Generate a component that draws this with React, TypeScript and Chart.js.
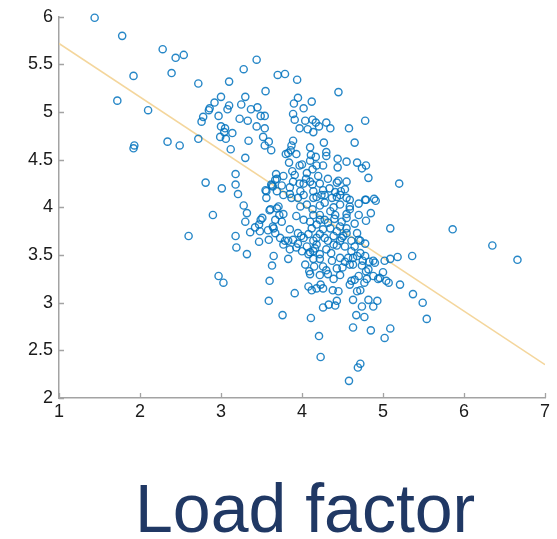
import React, { useEffect, useRef } from "react";
import { Chart, registerables } from "chart.js";

Chart.register(...registerables);

// Scatter points (x values and y values, same order)
const xs = [
  1.44, 1.78, 2.28, 2.44, 2.54, 2.39, 1.92, 1.72, 2.10, 1.93, 1.92, 2.34, 2.49, 2.72, 2.72, 2.81, 2.76, 2.78, 2.86, 2.85,
  2.92, 3.00, 2.97, 3.10, 3.28, 3.44, 3.70, 3.55, 3.30, 3.10, 3.08, 3.25, 3.37, 3.45, 3.23, 3.33, 3.49, 3.54, 3.00, 3.05,
  2.99, 3.06, 3.04, 3.14, 3.44, 3.54, 3.52, 3.59, 3.54, 3.62, 3.34, 3.12, 3.30, 3.18, 3.18, 3.01, 3.21, 3.68, 3.67, 3.63,
  3.55, 3.56, 3.56,
  3.79, 3.94, 4.45, 3.95, 3.90, 4.12, 4.02, 4.78, 3.89, 3.91, 4.04, 4.13, 4.17, 4.21, 4.30, 3.97, 4.07, 4.14, 4.35, 4.58,
  3.89, 3.87, 3.86, 4.27, 4.65, 4.10, 3.80, 3.83, 3.93, 4.11, 4.17, 4.30, 4.30, 4.44, 3.84, 3.97, 4.00, 4.10, 4.18, 4.26,
  4.44, 4.55, 4.68, 4.79, 4.74, 3.69, 3.77, 3.88, 3.91, 4.06, 4.05, 4.13, 4.20, 4.32, 4.45, 4.55, 4.82, 5.20, 3.75, 3.85,
  3.97, 4.02, 4.13, 4.22, 4.34, 4.48, 4.53, 3.64, 3.85, 4.02, 4.18, 4.28, 4.43, 4.59, 4.79, 4.89,
  3.77, 3.87, 3.95, 4.14, 4.24, 4.37, 4.47, 4.55, 4.70, 4.91, 3.69, 3.72, 3.67, 3.75, 3.65, 3.93, 4.02, 4.06, 4.13, 4.22,
  4.28, 4.35, 4.47, 4.49, 4.59, 4.70, 4.79, 4.85, 5.09, 5.86, 6.35, 6.66, 3.67, 3.73, 3.79, 3.77, 3.83, 3.89, 3.95, 4.02,
  4.08, 4.12, 4.18, 4.22, 3.85, 3.93, 4.00, 4.06, 4.14, 4.22, 4.30, 4.39, 4.47, 4.53, 4.61, 4.68, 4.72, 4.78, 4.22, 4.28,
  4.32, 4.39, 4.43, 4.35, 4.26, 4.18, 4.14, 4.47, 4.55, 4.51, 3.65, 3.63, 3.83, 4.04, 4.09, 4.08, 4.16, 4.22, 4.30, 4.37,
  4.43, 4.53, 4.59, 4.63, 4.68, 4.75, 4.79, 4.83, 4.88, 4.90, 4.96, 5.00, 5.04, 5.02, 5.09, 5.18, 5.36, 4.61, 4.65, 4.59,
  4.68, 4.72, 5.21, 3.91, 4.08, 4.12, 4.18, 4.23, 4.26, 4.38, 4.45, 4.43, 4.41, 4.26, 4.33, 4.63, 4.82, 4.93, 4.88, 4.74,
  4.67, 4.77, 4.63, 4.85, 5.09, 5.02, 5.37, 5.49, 5.54, 3.76, 4.11, 4.21, 4.23, 4.72, 4.69, 4.58, 3.60, 3.59,
  2.60, 2.90, 2.97, 3.03, 3.18, 3.19, 3.32, 3.28, 3.32, 3.30, 3.36, 3.42, 3.47, 3.49, 3.51, 3.48, 3.47, 3.58, 3.59, 3.60,
  3.64, 3.61, 3.62,
  4.78, 4.59, 4.65, 4.55, 4.55, 4.70, 4.65, 4.61, 4.72, 4.78, 4.57, 4.63, 4.74, 4.82, 4.88, 4.94, 4.80, 4.70, 4.77, 5.07,
  3.89, 4.10, 4.43, 3.69, 3.98, 4.14, 4.26, 4.41, 3.71, 3.98, 4.22, 4.39, 4.28, 3.77, 4.14, 4.41, 4.55, 4.10, 4.32, 4.40,
  3.85, 3.99, 4.49, 3.95, 4.18, 4.43, 4.10, 4.36, 4.14, 4.47, 4.15, 4.26, 4.50, 4.10, 4.22, 4.32, 4.47, 4.39,
];
const ys = [
  5.99, 5.80, 5.66, 5.57, 5.60, 5.41, 5.38, 5.12, 5.02, 4.65, 4.62, 4.69, 4.65, 5.30, 4.72, 4.26, 4.90, 4.95, 5.04, 5.02,
  5.10, 5.16, 4.96, 5.32, 5.45, 5.55, 5.39, 5.22, 5.16, 5.07, 5.03, 5.08, 5.03, 5.05, 4.93, 4.91, 4.96, 4.96, 4.85, 4.83,
  4.74, 4.72, 4.79, 4.78, 4.85, 4.83, 4.74, 4.69, 4.65, 4.60, 4.70, 4.61, 4.52, 4.35, 4.24, 4.20, 4.14, 4.35, 4.29, 4.23,
  4.18, 4.17, 4.10,
  5.40, 5.34, 5.21, 5.15, 5.09, 5.11, 5.04, 4.91, 4.98, 4.92, 4.91, 4.92, 4.89, 4.85, 4.89, 4.83, 4.82, 4.79, 4.83, 4.83,
  4.70, 4.65, 4.60, 4.68, 4.68, 4.63, 4.56, 4.57, 4.56, 4.55, 4.53, 4.58, 4.54, 4.51, 4.47, 4.44, 4.45, 4.49, 4.44, 4.44,
  4.42, 4.48, 4.47, 4.44, 4.41, 4.30, 4.33, 4.38, 4.34, 4.36, 4.30, 4.40, 4.33, 4.30, 4.28, 4.27, 4.31, 4.25, 4.23, 4.21,
  4.25, 4.25, 4.24, 4.25, 4.20, 4.17, 4.19, 4.22, 4.14, 4.13, 4.11, 4.13, 4.11, 4.08, 4.08, 4.09,
  4.13, 4.10, 4.10, 4.10, 4.13, 4.10, 4.13, 4.10, 4.04, 4.07, 3.99, 3.92, 3.87, 3.85, 3.78, 3.91, 3.87, 4.03, 3.98, 3.92,
  3.87, 3.96, 4.03, 3.85, 4.01, 3.92, 3.86, 3.94, 3.78, 3.77, 3.60, 3.45, 3.73, 3.68, 3.65, 3.61, 3.65, 3.66, 3.73, 3.68,
  3.72, 3.78, 3.82, 3.87, 3.56, 3.58, 3.54, 3.59, 3.54, 3.51, 3.56, 3.61, 3.65, 3.59, 3.65, 3.73, 3.65, 3.62, 3.72, 3.68,
  3.65, 3.70, 3.75, 3.78, 3.77, 3.68, 3.65, 3.80, 3.78, 3.70, 3.49, 3.39, 3.46, 3.40, 3.33, 3.51, 3.57, 3.46, 3.34, 3.44,
  3.36, 3.43, 3.40, 3.47, 3.49, 3.44, 3.33, 3.43, 3.44, 3.42, 3.26, 3.32, 3.23, 3.44, 3.46, 3.48, 3.49, 3.23, 3.24, 3.19,
  3.12, 3.13, 3.19, 3.10, 3.17, 3.13, 3.15, 3.19, 3.15, 3.13, 3.12, 3.02, 2.97, 2.95, 2.98, 3.03, 3.03, 3.02, 2.96, 2.96,
  2.87, 2.85, 2.74, 2.71, 2.73, 2.63, 3.09, 3.00, 2.83, 2.87, 2.84, 2.65, 2.43, 2.36, 2.32, 2.18, 3.23, 3.02,
  3.70, 3.92, 3.28, 3.21, 3.70, 3.58, 3.51, 4.02, 3.94, 3.85, 3.74, 3.79, 3.82, 3.87, 3.89, 3.75, 3.64, 3.76, 3.66, 3.97,
  3.80, 3.98, 4.24,
  4.08, 3.98, 3.83, 3.89, 3.73, 3.66, 3.59, 3.54, 3.52, 3.49, 3.47, 3.40, 3.39, 3.35, 3.28, 3.25, 3.25, 3.28, 3.21, 3.21,
  4.27, 4.27, 4.26, 4.17, 4.17, 4.17, 4.18, 4.16, 4.01, 4.01, 4.02, 4.00, 4.05, 3.93, 3.92, 3.92, 3.93, 3.85, 3.84, 3.88,
  3.77, 3.70, 3.68, 3.62, 3.61, 3.60, 3.53, 3.52, 3.46, 3.47, 3.38, 3.38, 3.37, 3.30, 3.29, 3.30, 3.29, 3.25,
];

// Fitted line end points
const fitX = [1, 7];
const fitY = [5.72, 2.35];

// Axis ranges and steps
const xRange = [1, 7];
const yRange = [2, 6];
const xStep = 1;
const yStep = 0.5;

const titleText = "Load factor";

const CANVAS_W = 557;
const CANVAS_H = 420;
const AXIS_COLOR = "#a3a3a3";
const FONT = "'Liberation Sans', Arial, Helvetica, sans-serif";

const innerTicks = {
  id: "innerTicks",
  afterDraw(chart: any) {
    const { ctx } = chart;
    const x = chart.scales.x;
    const y = chart.scales.y;
    ctx.save();
    ctx.strokeStyle = AXIS_COLOR;
    ctx.lineWidth = 1.3;
    ctx.beginPath();
    x.ticks.forEach((t: any) => {
      const px = Math.round(x.getPixelForValue(t.value)) + 0.5;
      ctx.moveTo(px, y.bottom);
      ctx.lineTo(px, y.bottom - 5);
    });
    y.ticks.forEach((t: any) => {
      const py = Math.round(y.getPixelForValue(t.value)) + 0.5;
      ctx.moveTo(x.left, py);
      ctx.lineTo(x.left + 5, py);
    });
    ctx.stroke();
    ctx.restore();
  },
};

export default function App() {
  const ref = useRef<HTMLCanvasElement | null>(null);

  useEffect(() => {
    if (!ref.current) return;
    const points = xs.map((v, i) => ({ x: v, y: ys[i] }));
    const fit = fitX.map((v, i) => ({ x: v, y: fitY[i] }));
    const chart = new Chart(ref.current, {
      type: "scatter",
      data: {
        datasets: [
          {
            type: "line",
            data: fit,
            borderColor: "rgb(244,214,156)",
            borderWidth: 1.5,
            pointRadius: 0,
            fill: false,
            order: 2,
          } as any,
          {
            data: points,
            pointStyle: "circle",
            pointRadius: 3.6,
            pointBorderWidth: 1.4,
            pointBorderColor: "rgba(0,114,189,0.85)",
            pointBackgroundColor: "rgba(0,0,0,0)",
            clip: false,
            order: 1,
          } as any,
        ],
      },
      options: {
        responsive: false,
        animation: false,
        events: [],
        layout: { padding: { top: 14, right: 12, left: 0, bottom: 0 } },
        plugins: {
          legend: { display: false },
          tooltip: { enabled: false },
          title: { display: false },
        },
        scales: {
          x: {
            type: "linear",
            min: xRange[0],
            max: xRange[1],
            grid: { display: false, drawTicks: false },
            border: { display: true, color: AXIS_COLOR, width: 1.5 },
            ticks: {
              stepSize: xStep,
              padding: 3,
              color: "#1a1a1a",
              font: { family: FONT, size: 18 },
              callback: (v: any) => String(Number(v)),
            },
            afterFit: (s: any) => {
              s.height = CANVAS_H - 398;
            },
          },
          y: {
            type: "linear",
            min: yRange[0],
            max: yRange[1],
            grid: { display: false, drawTicks: false },
            border: { display: true, color: AXIS_COLOR, width: 1.5 },
            ticks: {
              stepSize: yStep,
              padding: 6,
              color: "#1a1a1a",
              font: { family: FONT, size: 18 },
              callback: (v: any) => String(Number(v)),
            },
            afterFit: (s: any) => {
              s.width = 59;
            },
          },
        },
      },
      plugins: [innerTicks],
    });
    return () => chart.destroy();
  }, []);

  return (
    <div style={{ position: "absolute", left: 0, top: 0, width: 557, height: 539, background: "#fff" }}>
      <canvas ref={ref} width={CANVAS_W} height={CANVAS_H} style={{ display: "block" }} />
      <div
        style={{
          position: "absolute",
          left: 135,
          top: 474,
          fontFamily: FONT,
          fontSize: 68,
          lineHeight: "68px",
          color: "#203864",
          whiteSpace: "nowrap",
        }}
      >
        {titleText}
      </div>
    </div>
  );
}
